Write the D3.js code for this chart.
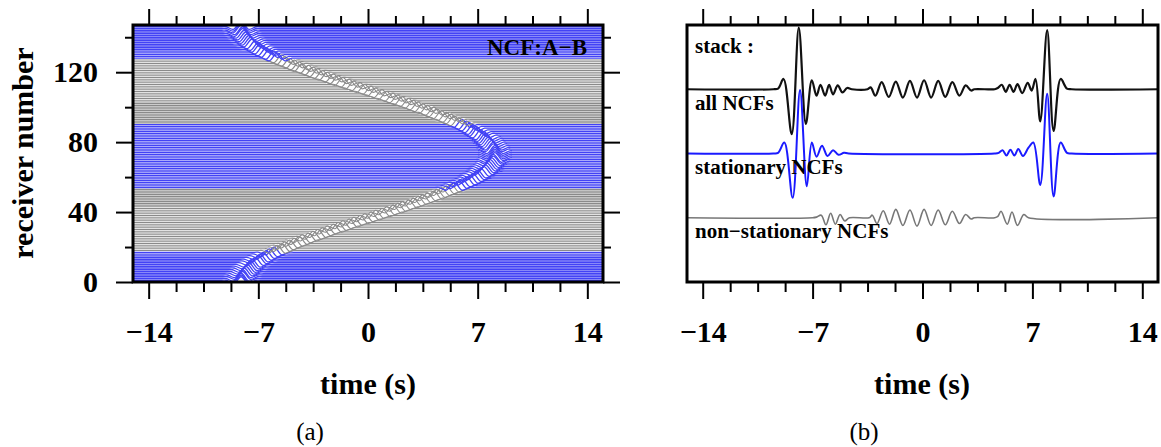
<!DOCTYPE html>
<html>
<head>
<meta charset="utf-8">
<script src="https://cdn.jsdelivr.net/npm/d3@7"></script>
<style>
  body { margin: 0; background: #fff; }
  svg text { font-family: "Liberation Serif", "Times New Roman", serif; }
</style>
</head>
<body>
<div id="chart"></div>
<script>
// tick values (time axis shared by both panels)
const majorTimeTicks = [-14, -7, 0, 7, 14];
const minorTimeTicks = [-12.25, -10.5, -8.75, -5.25, -3.5, -1.75, 1.75, 3.5, 5.25, 8.75, 10.5, 12.25];
const receiverTicks = [0, 40, 80, 120];
const minorReceiverTicks = [20, 60, 100, 140];

// (a) arrival time of the main pulse on every receiver 0..146 (s)
const arrivals = [
  -8.1,-8.1,-8.1,-8.0,-8.0,-7.9,-7.8,-7.7,-7.6,-7.5,-7.4,-7.2,-7.0,-6.9,-6.7,-6.5,-6.3,-6.0,-5.8,-5.5,
  -5.3,-5.0,-4.7,-4.4,-4.2,-3.8,-3.5,-3.2,-2.9,-2.6,-2.2,-1.9,-1.6,-1.2,-0.9,-0.5,-0.2,
  0.2,0.5,0.9,1.2,1.6,1.9,2.2,2.6,2.9,3.2,3.5,3.8,4.2,4.4,4.7,5.0,5.3,5.5,5.8,6.0,6.3,6.5,6.7,
  6.9,7.0,7.2,7.4,7.5,7.6,7.7,7.8,7.9,8.0,8.0,8.1,8.1,8.1,
  8.1,8.1,8.0,8.0,7.9,7.8,7.7,7.6,7.5,7.4,7.2,7.0,6.9,6.7,6.5,6.3,6.0,5.8,5.5,5.3,5.0,4.7,4.4,
  4.2,3.8,3.5,3.2,2.9,2.6,2.2,1.9,1.6,1.2,0.9,0.5,0.2,
  -0.2,-0.5,-0.9,-1.2,-1.6,-1.9,-2.2,-2.6,-2.9,-3.2,-3.5,-3.8,-4.2,-4.4,-4.7,-5.0,-5.3,-5.5,-5.8,-6.0,
  -6.3,-6.5,-6.7,-6.9,-7.0,-7.2,-7.4,-7.5,-7.6,-7.7,-7.8,-7.9,-8.0,-8.0,-8.1,-8.1,-8.1
];
// receivers in the stationary-phase zones (drawn blue)
const stationaryRanges = [[0, 17], [54, 90], [128, 146]];
// wavelet on each trace: time offset (s) and amplitude (receiver units)
const waveletDt = [-0.95, -0.5, 0, 0.5, 0.95];
const waveletAmp = [0, -1.5, 3.0, -1.5, 0];

// (b) stacked traces: [time (s), amplitude]
const stackAll = [
  [-15,0],[-9.5,0],[-9.2,0.01],[-8.85,0.16],[-8.33,-0.7],[-7.88,0.96],[-7.43,-0.54],[-7.05,0.14],
  [-6.75,-0.1],[-6.5,0.07],[-6.2,-0.1],[-5.95,0.07],[-5.7,-0.08],[-5.4,0.06],[-5.1,-0.05],[-4.8,0.02],
  [-4.5,0],[-3.5,0],[-3.3,0.03],[-3.0,-0.1],[-2.6,0.11],[-2.15,-0.12],[-1.7,0.12],[-1.25,-0.13],
  [-0.8,0.13],[-0.35,-0.13],[0.1,0.14],[0.55,-0.13],[1.0,0.13],[1.45,-0.12],[1.9,0.11],[2.35,-0.1],
  [2.75,0.06],[3.1,-0.02],[3.3,0],[4.6,0],[4.8,0.02],[5.05,0.07],[5.3,-0.04],[5.55,0.07],[5.8,-0.04],
  [6.05,0.08],[6.35,-0.06],[6.7,0.1],[6.95,-0.02],[7.2,0.16],[7.5,-0.5],[7.94,0.92],[8.35,-0.65],
  [8.8,0.16],[9.2,0.01],[9.5,0],[15,0]
];
const stackStationary = [
  [-15,0],[-9.5,0],[-9.2,0.01],[-8.8,0.17],[-8.27,-0.69],[-7.8,0.99],[-7.37,-0.51],[-7.05,0.17],
  [-6.75,-0.05],[-6.4,0.12],[-6.05,-0.04],[-5.7,0.05],[-5.35,-0.02],[-5.0,0.01],[-4.7,0],[4.6,0],
  [4.85,0.01],[5.1,0.05],[5.35,-0.03],[5.6,0.06],[5.85,-0.03],[6.1,0.07],[6.4,-0.04],[6.75,0.09],
  [7.06,0.17],[7.5,-0.49],[7.94,0.93],[8.35,-0.67],[8.8,0.17],[9.2,0.01],[9.5,0],[15,0]
];
const stackNonStationary = [
  [-15,0],[-7.0,0],[-6.75,0.01],[-6.45,0.04],[-6.15,-0.11],[-5.85,0.07],[-5.55,-0.1],[-5.25,0.05],
  [-4.95,-0.05],[-4.65,0],[-3.4,0],[-3.2,0.04],[-2.9,-0.09],[-2.5,0.11],[-2.1,-0.1],[-1.7,0.13],
  [-1.25,-0.12],[-0.8,0.12],[-0.35,-0.13],[0.1,0.13],[0.55,-0.12],[1.0,0.12],[1.45,-0.11],[1.9,0.1],
  [2.35,-0.09],[2.75,0.05],[3.1,-0.02],[3.3,0],[4.6,0],[4.8,0.02],[5.0,0.1],[5.4,-0.1],[5.7,0.09],
  [6.05,-0.12],[6.45,0.05],[6.75,0],[15,0]
];
const stackOffsets = [3, 2, 1];
const stackColors = ["#111111", "#1a1aff", "#777777"];
const stackWidths = [2.2, 2, 1.6];
const stackLabels = ["all NCFs", "stationary NCFs", "non\u2212stationary NCFs"];

const W = 1161, H = 447;
const svg = d3.select("#chart").append("svg")
  .attr("width", W).attr("height", H)
  .style("background-color", "white");

const xA = d3.scaleLinear().domain([-15, 15]).range([133, 603]);
const yA = d3.scaleLinear().domain([0, 147]).range([282, 25]);
const xB = d3.scaleLinear().domain([-15, 15]).range([687, 1158]);
const yB = d3.scaleLinear().domain([0, 4]).range([282, 25]);

const fmt = d => (d < 0 ? "\u2212" + Math.abs(d) : String(d));

// ---------- panel (a): wiggle section ----------
svg.append("clipPath").attr("id", "clipA")
  .append("rect").attr("x", 133).attr("y", 25).attr("width", 470).attr("height", 257);

const gA = svg.append("g").attr("clip-path", "url(#clipA)");

function isStationary(r) {
  return stationaryRanges.some(([a, b]) => r >= a && r <= b);
}

arrivals.forEach((t0, r) => {
  const pts = [[-15, 0], [t0 + waveletDt[0] - 0.3, 0]];
  waveletDt.forEach((dt, i) => pts.push([t0 + dt, waveletAmp[i]]));
  pts.push([t0 + waveletDt[waveletDt.length - 1] + 0.3, 0], [15, 0]);

  const line = d3.line()
    .x(d => xA(d[0]))
    .y(d => yA(r + d[1]))
    .curve(d3.curveCatmullRom);

  const blue = isStationary(r);
  gA.append("path").attr("d", line(pts))
    .attr("fill", "none")
    .attr("stroke", blue ? "#4242f5" : "#8a8a8a")
    .attr("stroke-width", blue ? 1.3 : 1.1);
});

svg.append("text")
  .attr("x", 587).attr("y", 55)
  .attr("text-anchor", "end")
  .style("font-size", "23px").style("font-weight", "bold")
  .text("NCF:A\u2212B");

// ---------- panel (b): stacks ----------
[stackAll, stackStationary, stackNonStationary].forEach((s, i) => {
  const off = stackOffsets[i];
  const line = d3.line()
    .x(d => xB(d[0]))
    .y(d => yB(off + d[1]))
    .curve(d3.curveCatmullRom);
  svg.append("path").attr("d", line(s))
    .attr("fill", "none")
    .attr("stroke", stackColors[i])
    .attr("stroke-width", stackWidths[i])
    .attr("stroke-linejoin", "round");
});

svg.append("text").attr("x", 695).attr("y", 53)
  .style("font-size", "21px").style("font-weight", "bold")
  .text("stack :");
const labelY = [110, 174, 238];
stackLabels.forEach((lab, i) => {
  svg.append("text").attr("x", 695).attr("y", labelY[i])
    .style("font-size", "21px").style("font-weight", "bold")
    .text(lab);
});

// ---------- axes ----------
function styleAxis(g) {
  g.select(".domain").remove();
  g.selectAll(".tick line").attr("stroke", "black").attr("stroke-width", 2);
  g.selectAll(".tick text")
    .attr("fill", "black")
    .style("font-size", "30px")
    .style("font-weight", "bold")
    .style("font-family", "'Liberation Serif', 'Times New Roman', serif");
}

[xA, xB].forEach(x => {
  svg.append("g").attr("transform", "translate(0,25)")
    .call(d3.axisTop(x).tickValues(majorTimeTicks).tickSize(16).tickFormat(""))
    .call(styleAxis);
  svg.append("g").attr("transform", "translate(0,25)")
    .call(d3.axisTop(x).tickValues(minorTimeTicks).tickSize(9).tickFormat(""))
    .call(styleAxis);
  svg.append("g").attr("transform", "translate(0,282)")
    .call(d3.axisBottom(x).tickValues(majorTimeTicks).tickSize(17).tickPadding(22).tickFormat(fmt))
    .call(styleAxis);
  svg.append("g").attr("transform", "translate(0,282)")
    .call(d3.axisBottom(x).tickValues(minorTimeTicks).tickSize(10).tickFormat(""))
    .call(styleAxis);
});

svg.append("g").attr("transform", "translate(133,0)")
  .call(d3.axisLeft(yA).tickValues(receiverTicks).tickSize(17).tickPadding(18))
  .call(styleAxis);
svg.append("g").attr("transform", "translate(133,0)")
  .call(d3.axisLeft(yA).tickValues(minorReceiverTicks).tickSize(8).tickFormat(""))
  .call(styleAxis);
svg.append("g").attr("transform", "translate(603,0)")
  .call(d3.axisRight(yA).tickValues(receiverTicks).tickSize(17).tickFormat(""))
  .call(styleAxis);
svg.append("g").attr("transform", "translate(603,0)")
  .call(d3.axisRight(yA).tickValues(minorReceiverTicks).tickSize(8).tickFormat(""))
  .call(styleAxis);

// frames
svg.append("rect").attr("x", 133).attr("y", 25).attr("width", 470).attr("height", 257)
  .attr("fill", "none").attr("stroke", "black").attr("stroke-width", 3);
svg.append("rect").attr("x", 687).attr("y", 25).attr("width", 471).attr("height", 257)
  .attr("fill", "none").attr("stroke", "black").attr("stroke-width", 3);

// axis titles
svg.append("text")
  .attr("transform", "translate(33,153) rotate(-90)")
  .attr("text-anchor", "middle")
  .style("font-size", "30px").style("font-weight", "bold")
  .text("receiver number");
[[368, "(a)"], [922, "(b)"]].forEach(([cx, cap]) => {
  svg.append("text").attr("x", cx).attr("y", 394)
    .attr("text-anchor", "middle")
    .style("font-size", "30px").style("font-weight", "bold")
    .text("time (s)");
  svg.append("text").attr("x", cx - 58).attr("y", 440)
    .attr("text-anchor", "middle")
    .style("font-size", "25px")
    .text(cap);
});
</script>
</body>
</html>
